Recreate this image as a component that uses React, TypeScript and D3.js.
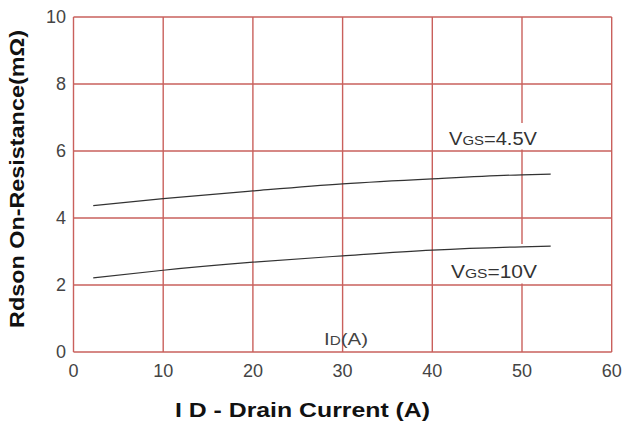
import React from "react";
import * as d3 from "d3";

const xTicks = [0, 10, 20, 30, 40, 50, 60];
const yTicks = [0, 2, 4, 6, 8, 10];

const idVals = [2.2, 10, 20, 30, 40, 50, 53.2];
const r45 = [4.37, 4.58, 4.81, 5.02, 5.17, 5.29, 5.31];
const r10 = [2.21, 2.44, 2.68, 2.87, 3.04, 3.14, 3.16];

const W = 622;
const H = 429;
const grid = "#c9605c";
const font = "'Liberation Sans', Arial, sans-serif";

export default function App() {
  const x = d3.scaleLinear().domain([0, 60]).range([73.5, 611.7]);
  const y = d3.scaleLinear().domain([0, 10]).range([352, 17]);
  const line = d3
    .line<number>()
    .x((_, i) => x(idVals[i]))
    .y((d) => y(d))
    .curve(d3.curveMonotoneX);

  return (
    <svg
      width={W}
      height={H}
      style={{ position: "absolute", left: 0, top: 0, background: "#fff" }}
      fontFamily={font}
    >
      <rect x={0} y={0} width={W} height={H} fill="#fff" />
      {xTicks.map((t) => (
        <line key={"gx" + t} x1={x(t)} x2={x(t)} y1={y(0)} y2={y(10)} stroke={grid} strokeWidth={1.4} />
      ))}
      {yTicks.map((t) => (
        <line key={"gy" + t} x1={x(0)} x2={x(60)} y1={y(t)} y2={y(t)} stroke={grid} strokeWidth={1.4} />
      ))}
      {/* label backgrounds */}
      <rect x={446} y={123} width={96} height={y(6) - 123 - 1.5} fill="#fff" />
      <rect x={446} y={244} width={96} height={y(2) - 244 - 1.5} fill="#fff" />

      <path d={line(r45) || ""} fill="none" stroke="#333" strokeWidth={1.2} />
      <path d={line(r10) || ""} fill="none" stroke="#333" strokeWidth={1.2} />

      <text x={449} y={145} fontSize={17.5} fill="#333" textLength={88} lengthAdjust="spacingAndGlyphs">
        V<tspan fontSize={13}>GS</tspan>=4.5V
      </text>
      <text x={451} y={278} fontSize={17.5} fill="#333" textLength={86} lengthAdjust="spacingAndGlyphs">
        V<tspan fontSize={13}>GS</tspan>=10V
      </text>
      <text x={324} y={345} fontSize={16} fill="#444" textLength={44} lengthAdjust="spacingAndGlyphs">
        I<tspan fontSize={12}>D</tspan>(A)
      </text>

      {yTicks.map((t) => (
        <text key={"ty" + t} x={66} y={y(t)} dy="0.35em" textAnchor="end" fontSize={18} fill="#444">
          {t}
        </text>
      ))}
      {xTicks.map((t) => (
        <text key={"tx" + t} x={x(t)} y={377} textAnchor="middle" fontSize={18} fill="#444">
          {t}
        </text>
      ))}
      <text
        x={175}
        y={417}
        fontSize={20}
        fontWeight="bold"
        fill="#111"
        textLength={255}
        lengthAdjust="spacingAndGlyphs"
      >
        I D - Drain Current (A)
      </text>
      <text
        transform={`translate(24,328) rotate(-90)`}
        fontSize={20}
        fontWeight="bold"
        fill="#111"
        textLength={298}
        lengthAdjust="spacingAndGlyphs"
      >
        Rdson On-Resistance(mΩ)
      </text>
    </svg>
  );
}
